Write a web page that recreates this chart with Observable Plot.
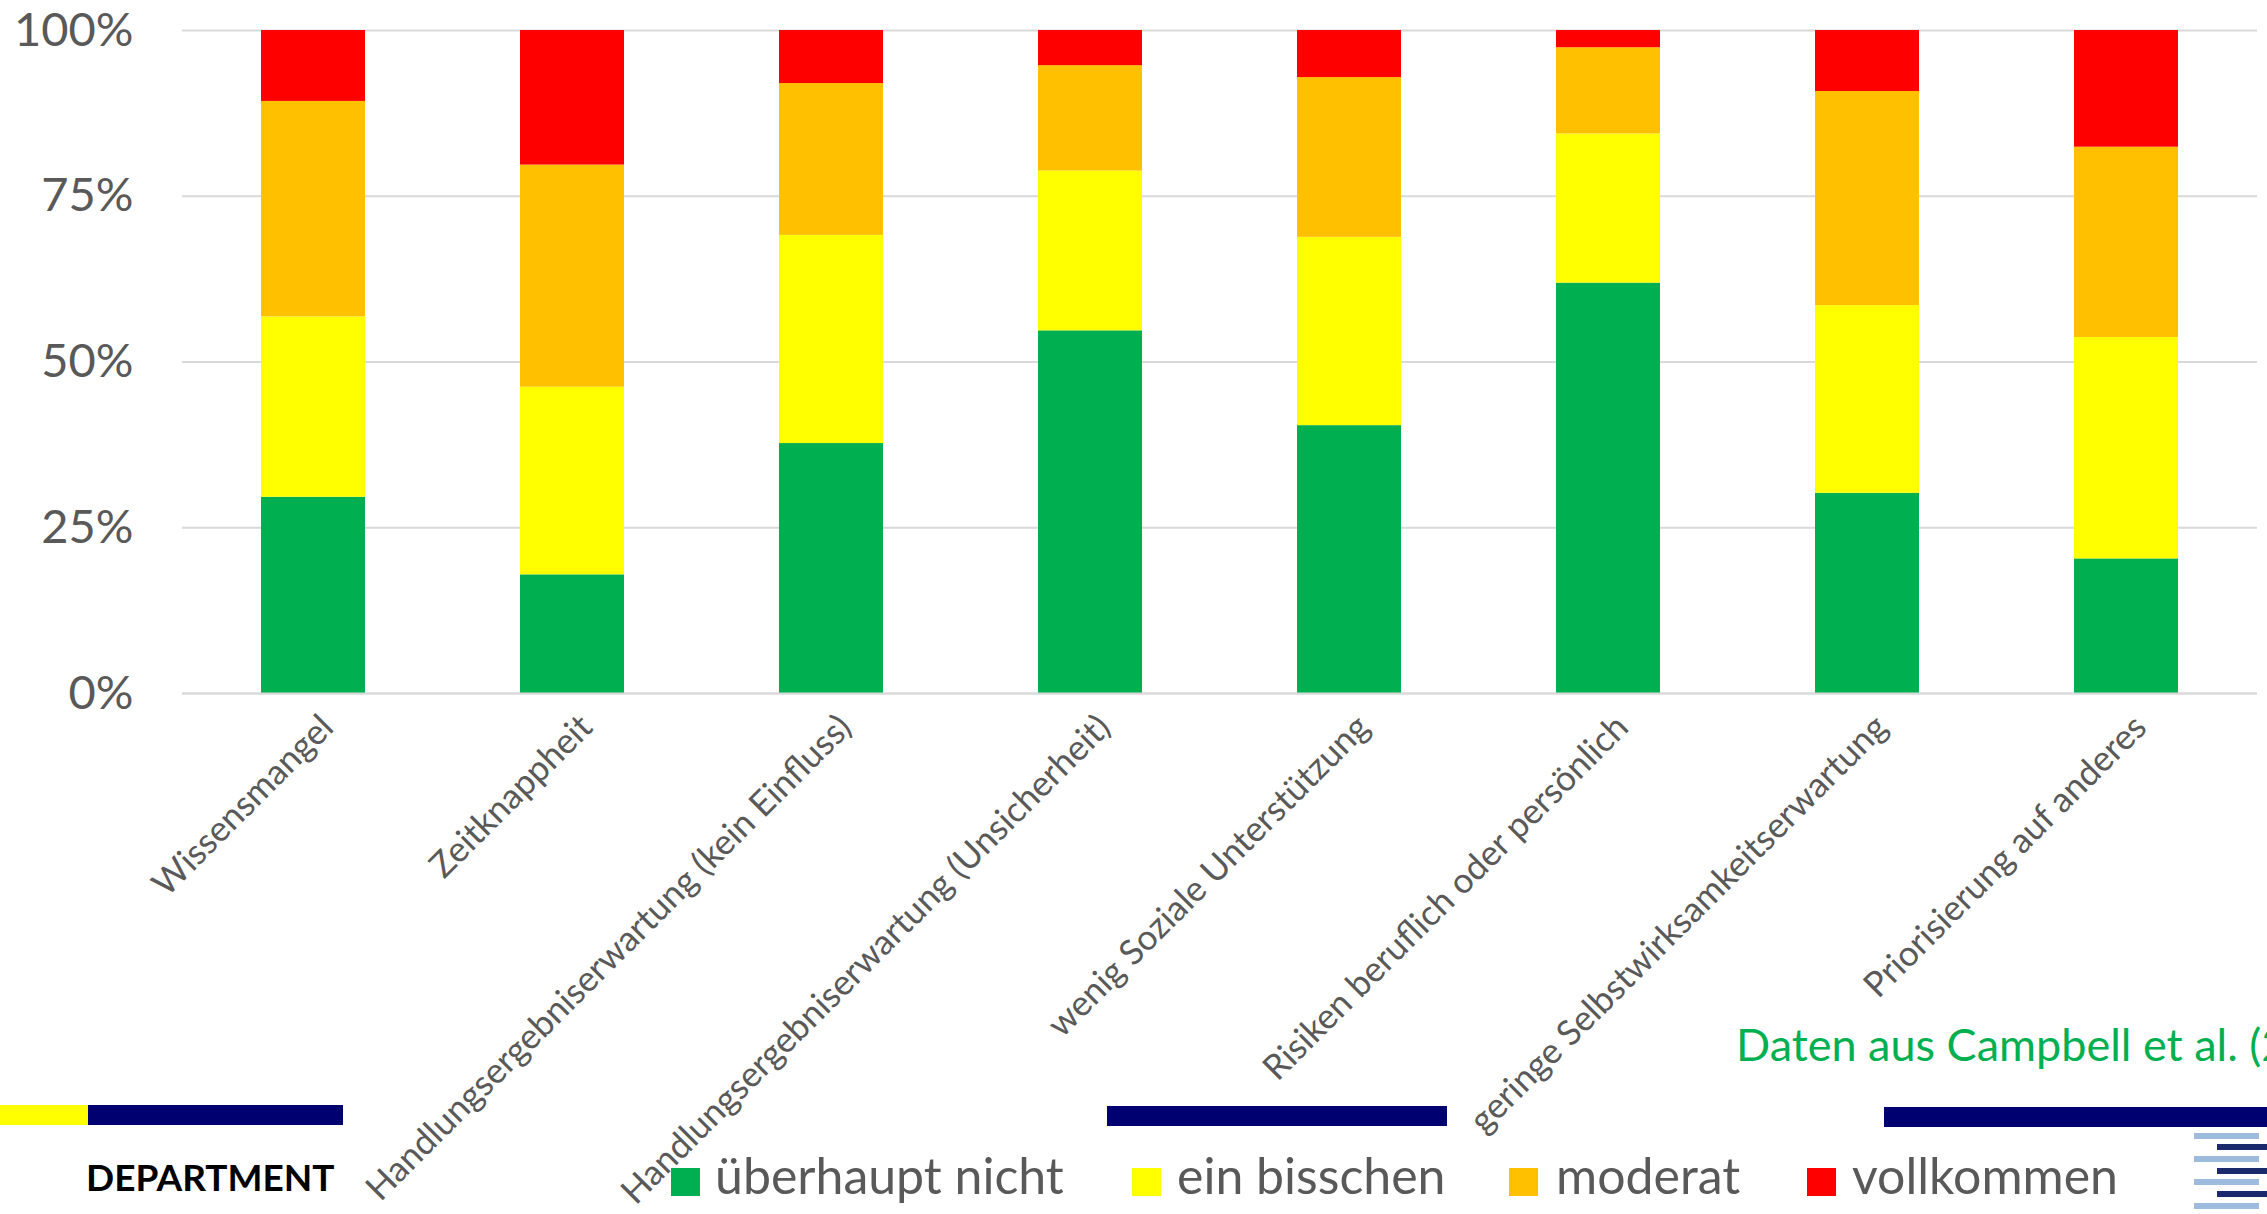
<!DOCTYPE html>
<html><head><meta charset="utf-8">
<script src="https://cdn.jsdelivr.net/npm/d3@7"></script>
<script src="https://cdn.jsdelivr.net/npm/@observablehq/plot@0.6"></script>
<style>
html,body{margin:0;padding:0;background:#fff;}
#wrap{position:relative;width:2267px;height:1214px;overflow:hidden;font-family:Lato,sans-serif;background:#fff;}
#wrap > svg{position:absolute;left:0;top:0;}
</style></head><body><div id="wrap"></div>
<script>
const categories = ["Wissensmangel", "Zeitknappheit", "Handlungsergebniserwartung (kein Einfluss)", "Handlungsergebniserwartung (Unsicherheit)", "wenig Soziale Unterstützung", "Risiken beruflich oder persönlich", "geringe Selbstwirksamkeitserwartung", "Priorisierung auf anderes"];
const levels = ["überhaupt nicht", "ein bisschen", "moderat", "vollkommen"];
const colors = ["#00b050", "#ffff00", "#ffc000", "#ff0000"];
const ueberhauptNicht = [29.6, 17.9, 37.7, 54.7, 40.4, 61.9, 30.2, 20.3];
const einBisschen     = [27.2, 28.3, 31.4, 24.1, 28.4, 22.5, 28.3, 33.4];
const moderat         = [32.5, 33.5, 22.9, 15.9, 24.1, 13.0, 32.3, 28.7];
const vollkommen      = [10.7, 20.3,  8.0,  5.3,  7.1,  2.6,  9.2, 17.6];
const yTicks = [0, 25, 50, 75, 100];
const sourceText = "Daten aus Campbell et al. (2019)";
const departmentText = "DEPARTMENT";

const series = [ueberhauptNicht, einBisschen, moderat, vollkommen];
const data = levels.flatMap((lv, j) => categories.map((c, i) => ({category: c, level: lv, value: series[j][i]})));

const W = 2267, H = 1214;
const wrap = document.getElementById("wrap");

const chart = Plot.plot({
  width: W, height: H,
  marginTop: 30, marginBottom: H - 693, marginLeft: 182, marginRight: 10,
  style: {fontFamily: "Lato, sans-serif", background: "transparent", overflow: "visible"},
  x: {domain: categories, paddingInner: 0.6, paddingOuter: 0.3, label: null},
  y: {domain: [0, 100], label: null},
  color: {domain: levels, range: colors},
  marks: [
    Plot.gridY(yTicks, {stroke: "#d9d9d9", strokeOpacity: 1, strokeWidth: 2}),
    Plot.barY(data, {x: "category", y: "value", fill: "level"}),
    Plot.ruleY([0], {stroke: "#d9d9d9", strokeWidth: 2}),
    Plot.axisY(yTicks, {tickSize: 0, tickPadding: 49, tickFormat: d => d + "%", fontSize: 47, fill: "#595959", label: null}),
    Plot.axisX({tickSize: 0, tickRotate: -45, tickPadding: 28, dx: 14, fontSize: 35, fill: "#595959", label: null})
  ]
});
wrap.appendChild(chart);

// overlay: slide decorations, source note, legend
const svg = d3.select(wrap).append("svg").attr("width", W).attr("height", H)
  .style("font-family", "Lato, sans-serif");

svg.append("rect").attr("x", 0).attr("y", 1105).attr("width", 88).attr("height", 20).attr("fill", "#ffff00");
svg.append("rect").attr("x", 88).attr("y", 1105).attr("width", 255).attr("height", 20).attr("fill", "#000070");
svg.append("rect").attr("x", 1107).attr("y", 1106).attr("width", 340).attr("height", 20).attr("fill", "#000070");
svg.append("rect").attr("x", 1884).attr("y", 1107).attr("width", 383).attr("height", 20).attr("fill", "#000070");

svg.append("text").attr("x", 86).attr("y", 1191).attr("font-size", 37).attr("font-weight", 700)
  .attr("fill", "#000").text(departmentText);

svg.append("text").attr("x", 1736).attr("y", 1061).attr("font-size", 45)
  .attr("fill", "#00b050").text(sourceText);

// logo stripes
[1133, 1156, 1179, 1203].forEach(y => svg.append("rect").attr("x", 2194).attr("y", y).attr("width", 65).attr("height", 6).attr("fill", "#9dbbdc"));
[1144, 1168, 1191].forEach(y => svg.append("rect").attr("x", 2217).attr("y", y).attr("width", 50).attr("height", 6).attr("fill", "#1a2a6c"));

// legend
const legendSq = [671, 1132, 1509, 1807];
const legendTx = [715, 1177, 1556, 1852];
levels.forEach((lv, i) => {
  svg.append("rect").attr("x", legendSq[i]).attr("y", 1168).attr("width", 29).attr("height", 28).attr("fill", colors[i]);
  svg.append("text").attr("x", legendTx[i]).attr("y", 1194).attr("font-size", 50).attr("fill", "#595959").text(lv);
});
</script>
</body></html>
